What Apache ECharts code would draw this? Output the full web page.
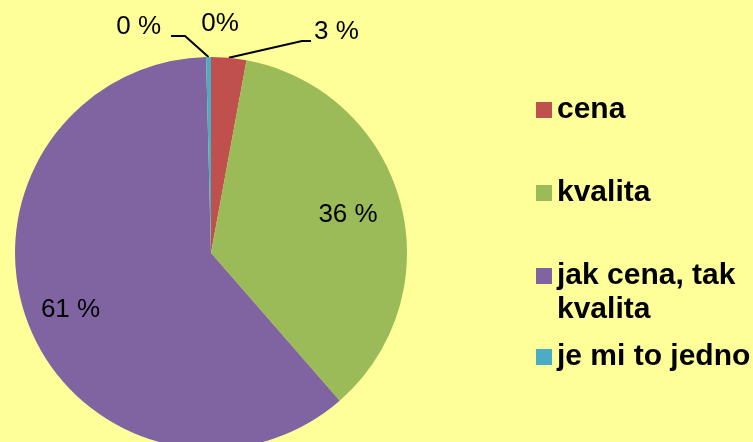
<!DOCTYPE html>
<html><head><meta charset="utf-8">
<script src="https://cdn.jsdelivr.net/npm/echarts@6/dist/echarts.min.js"></script>
<style>html,body{margin:0;padding:0;background:#FFFF99}#c{width:753px;height:442px}</style>
</head><body><div id="c"></div>
<script>
// ---- data ----
var categories = ['', 'cena', 'kvalita', 'jak cena, tak kvalita', 'je mi to jedno'];
var values = [0, 2.9, 35.7, 61.0, 0.4];
var colors = ['transparent', '#C0504D', '#9BBB59', '#8064A2', '#4BACC6'];
var labelSuffix = ['%', ' %', ' %', ' %', ' %'];
var insideLabel = [false, false, true, true, false];
var legendNames = ['cena', 'kvalita', 'jak cena, tak kvalita', 'je mi to jedno'];
var legendTexts = ['cena', 'kvalita', '\njak cena, tak\nkvalita', 'je mi to jedno'];

// ---- layout / style ----
var FONT = '"Liberation Sans", Arial, sans-serif';
var outsidePos = {
  0: { x: 220, y: 24, align: 'center' },
  1: { x: 314, y: 32, align: 'left', elbow: [302, 41], end: [311, 41] },
  4: { x: 161, y: 27, align: 'right', elbow: [185, 36], end: [171, 36] }
};
var insideShift = { 2: [2, -1], 3: [-10, 6] };
var legendTops = [93, 176, 225, 340];
var LH = 34;

function fmt(p) { return Math.round(p.percent) + labelSuffix[p.dataIndex]; }

var mainData = categories.map(function (c, i) {
  return {
    name: c, value: values[i],
    itemStyle: { color: colors[i] },
    label: { show: !insideLabel[i] },
    labelLine: { show: !insideLabel[i] && i !== 0 }
  };
});
var overlayData = categories.map(function (c, i) {
  return {
    name: c, value: values[i],
    itemStyle: { color: 'transparent' },
    label: { show: insideLabel[i] }
  };
});

var legends = legendNames.map(function (n, i) {
  var ts = { fontSize: 30, fontWeight: 'bold', fontFamily: FONT, color: '#000', lineHeight: LH };
  return {
    orient: 'vertical', left: 536, top: legendTops[i], padding: 0,
    itemWidth: 16, itemHeight: 16, itemGap: 0,
    icon: 'rect', selectedMode: false,
    data: [{ name: n }],
    formatter: function () { return legendTexts[i]; },
    textStyle: ts
  };
});

var chart = echarts.init(document.getElementById('c'), null, { renderer: 'canvas' });
chart.setOption({
  backgroundColor: '#FFFF99',
  animation: false,
  legend: legends,
  series: [{
    type: 'pie', radius: 196, center: [211, 253], startAngle: 90, clockwise: true,
    avoidLabelOverlap: false, silent: true,
    data: mainData,
    label: { position: 'outside', formatter: fmt, color: '#000', fontSize: 26, fontFamily: FONT },
    labelLine: { length: 10, length2: 10, lineStyle: { color: '#000', width: 2 } },
    labelLayout: function (p) {
      var pos = outsidePos[p.dataIndex];
      if (!pos) return {};
      var r = { x: pos.x, y: pos.y, align: pos.align, verticalAlign: 'middle' };
      if (pos.elbow && p.labelLinePoints) {
        r.labelLinePoints = [p.labelLinePoints[0], pos.elbow, pos.end];
      }
      return r;
    }
  }, {
    type: 'pie', radius: [78, 196], center: [211, 253], startAngle: 90, clockwise: true,
    avoidLabelOverlap: false, silent: true, z: 3,
    data: overlayData,
    label: { position: 'inside', formatter: fmt, color: '#000', fontSize: 26, fontFamily: FONT },
    labelLine: { show: false },
    labelLayout: function (p) {
      var s = insideShift[p.dataIndex];
      return s ? { dx: s[0], dy: s[1] } : {};
    }
  }]
});
</script></body></html>
